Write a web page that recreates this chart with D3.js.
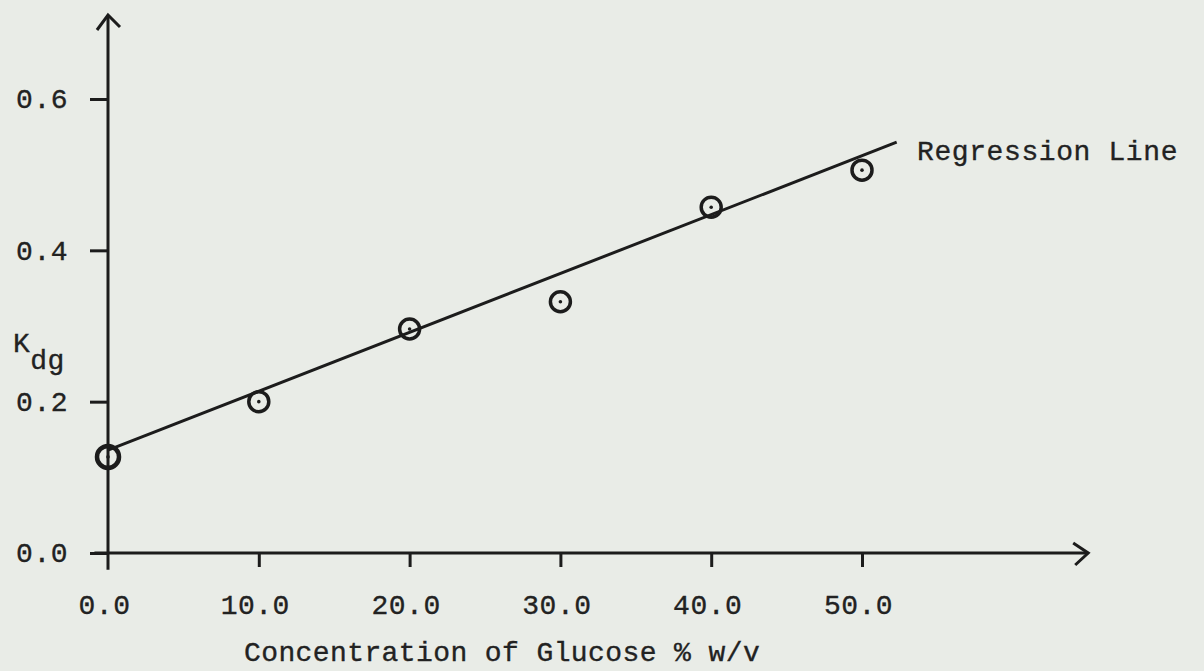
<!DOCTYPE html>
<html>
<head>
<meta charset="utf-8">
<script src="https://cdn.jsdelivr.net/npm/d3@7"></script>
<style>
  body { margin: 0; background: #e9ece7; }
  svg { display: block; }
  text { font-family: "Liberation Mono", "Courier New", monospace; fill: #222; stroke: #222; stroke-width: 0.35px; }
</style>
</head>
<body>
<svg id="chart"></svg>
<script>
// data
var concentration = [0, 10, 20, 30, 40, 50];
var kdg = [0.127, 0.200, 0.296, 0.332, 0.457, 0.506];
var xTicks = [0, 10, 20, 30, 40, 50];
var yTicks = [0.0, 0.2, 0.4, 0.6];
// regression line (intercept, slope) and its drawn extent
var regIntercept = 0.136;
var regSlope = 0.00778;
var regRange = [0, 52.3];

var width = 1204, height = 671;
var fontSize = 28;

var svg = d3.select("#chart")
    .attr("width", width)
    .attr("height", height);

var x = d3.scaleLinear().domain([0, 50]).range([108, 862]);
var y = d3.scaleLinear().domain([0, 0.6]).range([553, 99]);

var ink = "#1c1c1c";

// axis lines, stretched past the last tick with open arrow heads
svg.append("line")
    .attr("x1", x(-0.9)).attr("x2", x(65))
    .attr("y1", y(0)).attr("y2", y(0))
    .attr("stroke", ink).attr("stroke-width", 3);
svg.append("line")
    .attr("x1", x(0)).attr("x2", x(0))
    .attr("y1", y(-0.022)).attr("y2", y(0.711))
    .attr("stroke", ink).attr("stroke-width", 3);

// arrow heads
var xTip = [x(65), y(0)];
svg.append("path")
    .attr("d", "M" + (xTip[0] - 15) + "," + (xTip[1] - 10) + "L" + xTip[0] + "," + xTip[1] + "L" + (xTip[0] - 13) + "," + (xTip[1] + 12))
    .attr("fill", "none").attr("stroke", ink).attr("stroke-width", 3);
var yTip = [x(0), y(0.711)];
svg.append("path")
    .attr("d", "M" + (yTip[0] - 11) + "," + (yTip[1] + 15) + "L" + yTip[0] + "," + yTip[1] + "L" + (yTip[0] + 12) + "," + (yTip[1] + 12))
    .attr("fill", "none").attr("stroke", ink).attr("stroke-width", 3);

// x axis ticks and labels
var xAxis = svg.append("g")
    .attr("transform", "translate(0," + y(0) + ")")
    .call(d3.axisBottom(x).tickValues(xTicks).tickFormat(d3.format(".1f"))
        .tickSize(14).tickSizeOuter(0).tickPadding(27));
xAxis.select(".domain").remove();
xAxis.selectAll(".tick line").attr("stroke", ink).attr("stroke-width", 3)
    .attr("y2", function (d) { return d === 0 ? 0 : 14; });
xAxis.selectAll(".tick text")
    .attr("font-size", fontSize)
    .attr("letter-spacing", 0.5)
    .attr("dx", -4)
    .style("font-family", "'Liberation Mono', monospace")
    .attr("fill", "#222");

// y axis ticks and labels
var yAxis = svg.append("g")
    .attr("transform", "translate(" + x(0) + ",0)")
    .call(d3.axisLeft(y).tickValues(yTicks).tickFormat(d3.format(".1f"))
        .tickSize(18).tickSizeOuter(0).tickPadding(22));
yAxis.select(".domain").remove();
yAxis.selectAll(".tick line").attr("stroke", ink).attr("stroke-width", 3);
yAxis.selectAll(".tick text")
    .attr("font-size", fontSize)
    .attr("letter-spacing", 0.5)
    .style("font-family", "'Liberation Mono', monospace")
    .attr("fill", "#222");

// regression line
var line = d3.line()
    .x(function (d) { return x(d); })
    .y(function (d) { return y(regIntercept + regSlope * d); });
svg.append("path")
    .datum(regRange)
    .attr("d", line)
    .attr("fill", "none")
    .attr("stroke", ink)
    .attr("stroke-width", 3);

// data points: open circle with a centre dot
var pts = concentration.map(function (c, i) { return {x: c, y: kdg[i]}; });
var dots = svg.append("g").selectAll("g")
    .data(pts)
    .enter()
    .append("g");
dots.append("circle")
    .attr("cx", function (d) { return x(d.x); })
    .attr("cy", function (d) { return y(d.y); })
    .attr("r", function (d, i) { return i === 0 ? 11 : 10; })
    .attr("fill", "none")
    .attr("stroke", ink)
    .attr("stroke-width", function (d, i) { return i === 0 ? 4.5 : 3.5; });
dots.append("circle")
    .attr("cx", function (d) { return x(d.x); })
    .attr("cy", function (d) { return y(d.y); })
    .attr("r", 1.8)
    .attr("fill", ink);

// labels
svg.append("text")
    .attr("x", 917).attr("y", 160)
    .attr("font-size", fontSize)
    .attr("letter-spacing", 0.6)
    .text("Regression Line");

var yl = svg.append("text")
    .attr("x", 13).attr("y", 352)
    .attr("font-size", fontSize)
    .attr("letter-spacing", 0.5);
yl.append("tspan").text("K");
yl.append("tspan").attr("dy", 17).text("dg");

svg.append("text")
    .attr("x", 244).attr("y", 661)
    .attr("font-size", fontSize)
    .attr("letter-spacing", 0.4)
    .text("Concentration of Glucose % w/v");
</script>
</body>
</html>
